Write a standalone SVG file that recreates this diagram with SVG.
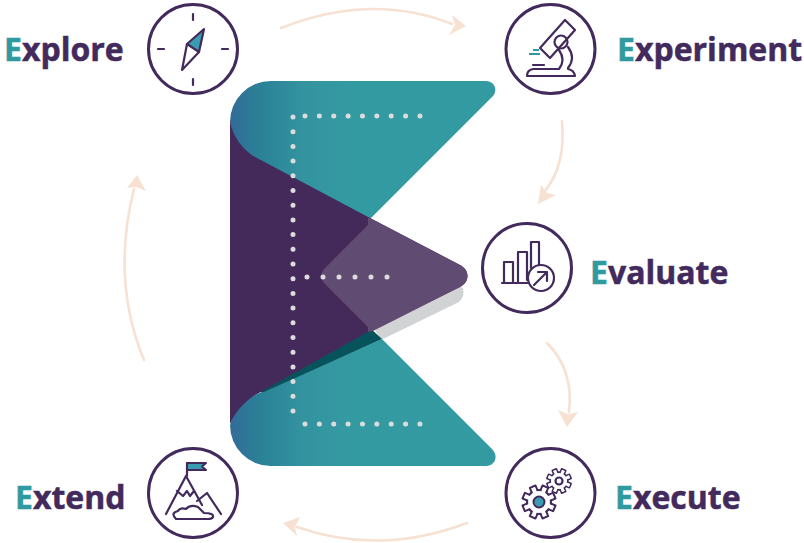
<svg xmlns="http://www.w3.org/2000/svg" xmlns:xlink="http://www.w3.org/1999/xlink" width="804" height="543" viewBox="0 0 804 543">
<style>
.ring{fill:none;stroke:#432a5c;stroke-width:3}
.ic{fill:none;stroke:#432a5c;stroke-width:2.2;stroke-linejoin:round;stroke-linecap:round}
.icw{fill:#fff;stroke:#432a5c;stroke-width:2.2;stroke-linejoin:round;stroke-linecap:round}
.lb{font-family:"Open Sans","Noto Sans",sans-serif;font-weight:700;font-size:32px;fill:#432a5c;stroke:#432a5c;stroke-width:.5}
.e{fill:#2f9aa0;stroke:#2f9aa0}
.arc{fill:none;stroke:#f6e1d2;stroke-width:2.6;stroke-linecap:round}
.head{fill:#f6e1d2}
.dot{fill:none;stroke:#dcdcdc;stroke-width:5;stroke-linecap:round}
</style>
<defs>
<linearGradient id="tg" gradientUnits="userSpaceOnUse" x1="230" y1="0" x2="350" y2="0">
<stop offset="0" stop-color="#336b98"/><stop offset="0.25" stop-color="#2a8197"/><stop offset="0.6" stop-color="#33939f"/><stop offset="1" stop-color="#349aa2"/>
</linearGradient>
<g id="gear">
<g class="icw"><rect x="-3" y="-16.500" width="6" height="8" transform="rotate(22.5)"/><rect x="-3" y="-16.500" width="6" height="8" transform="rotate(67.5)"/><rect x="-3" y="-16.500" width="6" height="8" transform="rotate(112.5)"/><rect x="-3" y="-16.500" width="6" height="8" transform="rotate(157.5)"/><rect x="-3" y="-16.500" width="6" height="8" transform="rotate(202.5)"/><rect x="-3" y="-16.500" width="6" height="8" transform="rotate(247.5)"/><rect x="-3" y="-16.500" width="6" height="8" transform="rotate(292.5)"/><rect x="-3" y="-16.500" width="6" height="8" transform="rotate(337.5)"/>
<circle r="12"/></g>
<g fill="#fff"><rect x="-2" y="-15.400" width="4" height="8" transform="rotate(22.5)"/><rect x="-2" y="-15.400" width="4" height="8" transform="rotate(67.5)"/><rect x="-2" y="-15.400" width="4" height="8" transform="rotate(112.5)"/><rect x="-2" y="-15.400" width="4" height="8" transform="rotate(157.5)"/><rect x="-2" y="-15.400" width="4" height="8" transform="rotate(202.5)"/><rect x="-2" y="-15.400" width="4" height="8" transform="rotate(247.5)"/><rect x="-2" y="-15.400" width="4" height="8" transform="rotate(292.5)"/><rect x="-2" y="-15.400" width="4" height="8" transform="rotate(337.5)"/></g>
</g>
</defs>
<rect width="804" height="543" fill="#fff"/>
<g id="emblem">
<path d="M375 330L455 285L463 288Q465 296 459 302L381 340Z" fill="#d2d3d5"/>
<path d="M230 122A41 41 0 0 1 271 81H486C494 81 499 90 492 97L370 219L340 240L240 170Z" fill="url(#tg)"/>
<path d="M230 426C232 412 244 400 257 394L382 339L492 449C499 456 495 466 486 466H271A41 41 0 0 1 230 425Z" fill="url(#tg)"/>
<path d="M250 392L368 326L382 339L264 392Z" fill="#07535c"/>
<path d="M230 120C232 136 243 151 257 158L370 218L460 265C470 270 470 282 460 287L368 332L257 394C244 401 234 414 230 424Z" fill="#432a5b"/>
<path d="M370 218L460 265C470 270 470 282 460 287L373 331L368 332V327L325 284C320 279 320 273 325 268L368 225V218Z" fill="#604c72"/>
<path d="M293 117V423" class="dot" stroke-dasharray="0 14.7"/>
<path d="M305 116H420M305 424H420" class="dot" stroke-dasharray="0 14.37"/>
<path d="M307 277H388" class="dot" stroke-dasharray="0 16"/>
</g>
<g id="connectors">
<path class="arc" d="M281 28Q372 -8 452 24"/><path class="head" d="M466 26L449 35L455 25L452 15Z"/>
<path class="arc" d="M562 121Q566 165 545 191"/><path class="head" d="M538 204L541 185L547 193L556 195Z"/>
<path class="arc" d="M547 343Q574 370 569 412"/><path class="head" d="M567 427L558 410L568 414L578 412Z"/>
<path class="arc" d="M467 523Q380 556 297 527"/><path class="head" d="M283 523L300 517L295 527L297 536Z"/>
<path class="arc" d="M144 360Q111 280 134 189"/><path class="head" d="M137 175L146 191L136 187L127 188Z"/>
</g>
<g id="explore">
<circle class="ring" cx="193" cy="49" r="44.500"/>
<path class="ic" d="M193 14V20M193 79V85M158 49H164M222 49H228"/>
<path d="M204 29L187 44L199 52Z" fill="#3a9cb0" stroke="#432a5c" stroke-width="2.2" stroke-linejoin="round"/>
<path class="ic" d="M187 44L182 70L199 52"/>
<text class="lb" x="4" y="61"><tspan class="e">E</tspan>xplore</text>
</g>
<g id="experiment">
<circle class="ring" cx="550.500" cy="49" r="44.500"/>
<path class="ic" d="M565 20L575 30L550 58L540 48Z"/>
<circle class="ic" cx="561" cy="42" r="6.500"/>
<path class="ic" d="M568 47Q576 58 568 68M559 50Q566 60 559 69H533Q527 70 527 76H575Q574 70 568 69M533 65H544"/>
<path d="M529 54H540M533 50H539" fill="none" stroke="#2f9aa0" stroke-width="2"/>
<text class="lb" x="617" y="61"><tspan class="e">E</tspan>xperiment</text>
</g>
<g id="evaluate">
<circle class="ring" cx="527" cy="268" r="44.500"/>
<path class="ic" d="M502 283H528M504 283V262H513V283M518 283V252H527V280M531 268V242H539V265"/>
<circle class="ic" cx="541" cy="278" r="13"/>
<path class="ic" d="M534 285L547 272M538 272H547V281"/>
<text class="lb" x="590" y="284"><tspan class="e">E</tspan>valuate</text>
</g>
<g id="execute">
<circle class="ring" cx="550.500" cy="493" r="44.500"/>
<use xlink:href="#gear" href="#gear" transform="translate(559 481) scale(.74)"/>
<circle class="ic" cx="559" cy="481" r="3.500"/>
<use xlink:href="#gear" href="#gear" transform="translate(539 502)"/>
<circle cx="539" cy="502" r="5.500" fill="#3a9cb0" stroke="#432a5c" stroke-width="2"/>
<text class="lb" x="615" y="509"><tspan class="e">E</tspan>xecute</text>
</g>
<g id="extend">
<circle class="ring" cx="193" cy="493" r="44.500"/>
<path d="M187 463H206L202 466.500L206 470H187Z" fill="#3a9cb0" stroke="#432a5c" stroke-width="2" stroke-linejoin="round"/>
<path class="ic" d="M187 463V476M166 514L186 476L202 505M197 501L207 493L221 514M177 491L183 496L187 491L190 496L194 491"/>
<path class="icw" d="M176 519Q170 513 178 511Q180 507 186 509Q190 504 198 507Q201 510 204 513Q214 513 213 517Q212 519 208 519Z"/>
<text class="lb" x="15" y="509"><tspan class="e">E</tspan>xtend</text>
</g>
</svg>
